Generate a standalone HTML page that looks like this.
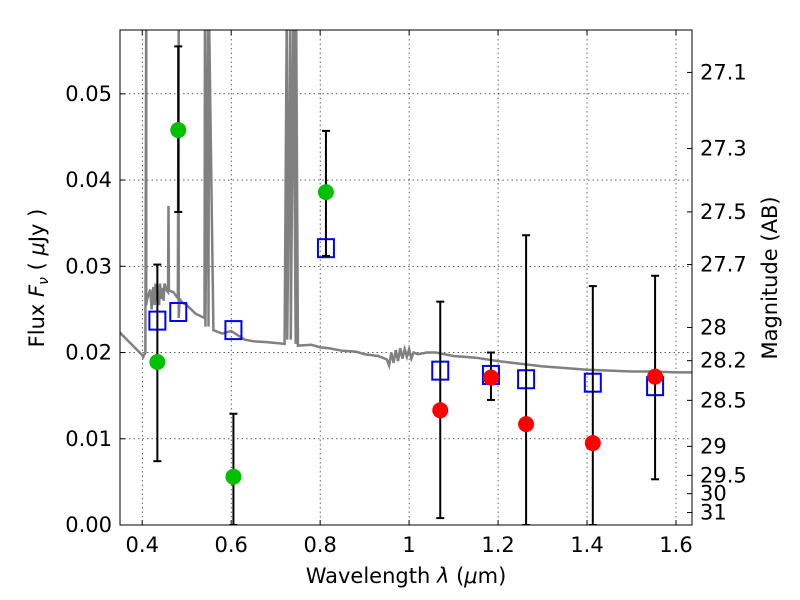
<!DOCTYPE html>
<html><head><meta charset="utf-8"><style>
body{margin:0;background:#fff}
svg{display:block;font-family:"DejaVu Sans","Liberation Sans",sans-serif}
</style></head><body>
<svg id="chart" width="800" height="600"></svg>
<script>
const greenX=[0.434,0.481,0.605,0.813];
const greenY=[0.0189,0.0458,0.0056,0.0386];
const greenLo=[0.0074,0.0363,0.0,0.0312];
const greenHi=[0.0302,0.0555,0.0129,0.0457];
const redX=[1.070,1.184,1.263,1.413,1.553];
const redY=[0.0133,0.0171,0.0117,0.0095,0.0172];
const redLo=[0.0008,0.0145,0.0,0.0,0.0053];
const redHi=[0.0259,0.0200,0.0336,0.0277,0.0289];
const modelX=[0.434,0.481,0.605,0.813,1.070,1.184,1.263,1.413,1.553];
const modelY=[0.0237,0.0247,0.0226,0.0321,0.0179,0.0174,0.0169,0.0165,0.0161];
const specX=[0.35,0.40,0.402,0.407,0.409,0.409,0.411,0.418,0.421,0.425,0.428,0.43,0.433,0.435,0.438,0.44,0.443,0.445,0.448,0.45,0.455,0.458,0.459,0.46,0.47,0.48,0.482,0.482,0.484,0.49,0.5,0.52,0.54,0.541,0.542,0.548,0.549,0.55,0.56,0.58,0.6,0.63,0.65,0.68,0.72,0.725,0.726,0.733,0.734,0.74,0.745,0.746,0.75,0.78,0.8,0.82,0.85,0.88,0.9,0.93,0.95,0.955,0.96,0.965,0.97,0.975,0.98,0.985,0.99,0.995,1.0,1.005,1.01,1.02,1.04,1.06,1.08,1.1,1.15,1.2,1.25,1.3,1.35,1.4,1.45,1.5,1.55,1.6,1.636];
const specY=[0.0223,0.0197,0.0195,0.0200,0.06,0.0255,0.0262,0.0273,0.0250,0.0276,0.0255,0.0280,0.0260,0.0272,0.0255,0.0280,0.0262,0.0275,0.0260,0.0280,0.0272,0.0270,0.037,0.0272,0.0270,0.0263,0.06,0.0240,0.0262,0.0258,0.0255,0.0245,0.0240,0.06,0.023,0.06,0.023,0.06,0.0226,0.0222,0.0225,0.0215,0.0213,0.0212,0.0210,0.06,0.0215,0.06,0.0215,0.06,0.0210,0.06,0.0208,0.0209,0.0206,0.0205,0.0202,0.0201,0.0198,0.0196,0.0192,0.0185,0.0200,0.0188,0.0203,0.0190,0.0205,0.0193,0.0204,0.0195,0.0204,0.0193,0.0200,0.0198,0.0200,0.0200,0.0198,0.0196,0.0194,0.0190,0.0187,0.0184,0.0182,0.0180,0.0179,0.0178,0.0178,0.0177,0.0177];
const xTicks=[0.4,0.6,0.8,1.0,1.2,1.4,1.6];
const xTickLabels=["0.4","0.6","0.8","1","1.2","1.4","1.6"];
const yTicks=[0,0.01,0.02,0.03,0.04,0.05];
const yTickLabels=["0.00","0.01","0.02","0.03","0.04","0.05"];
const magTicks=[27.1,27.3,27.5,27.7,28,28.2,28.5,29,29.5,30,31];
const magTickLabels=["27.1","27.3","27.5","27.7","28","28.2","28.5","29","29.5","30","31"];

const L=120,R=692,T=30,B=525;
const X0=0.35,X1=1.636,Y0=0,Y1=0.0574;
const sx=v=>L+(v-X0)/(X1-X0)*(R-L);
const sy=v=>B-(v-Y0)/(Y1-Y0)*(B-T);
const svg=document.getElementById('chart');
const NS='http://www.w3.org/2000/svg';
function mk(tag,attrs,parent){const e=document.createElementNS(NS,tag);for(const k in attrs)e.setAttribute(k,attrs[k]);(parent||svg).appendChild(e);return e;}
function txt(x,y,s,anchor,size,parent){const t=mk('text',{x:x,y:y,'text-anchor':anchor,'font-size':size||20},parent);t.textContent=s;return t;}

const defs=mk('defs',{});const cp=mk('clipPath',{id:'clip'},defs);mk('rect',{x:L,y:T,width:R-L,height:B-T},cp);

const grid=mk('g',{});


xTicks.forEach(v=>mk('line',{x1:sx(v),x2:sx(v),y1:T,y2:B,stroke:'#000','stroke-width':0.6,'stroke-dasharray':'1.5,3'},grid));
yTicks.forEach(v=>mk('line',{x1:L,x2:R,y1:sy(v),y2:sy(v),stroke:'#000','stroke-width':0.6,'stroke-dasharray':'1.5,3'},grid));

const sp=mk('polyline',{points:specX.map((x,i)=>sx(x)+','+sy(specY[i])).join(' '),fill:'none',stroke:'#808080','stroke-width':2.5,'clip-path':'url(#clip)'});



modelX.forEach((x,i)=>{const r=mk('rect',{x:sx(x)-8,y:sy(modelY[i])-9,width:16,height:18,fill:'none',stroke:'#0000ff','stroke-width':2});

});

function errs(xs,lo,hi,g){xs.forEach((x,i)=>{const px=sx(x);
mk('line',{x1:px,x2:px,y1:sy(lo[i]),y2:sy(hi[i]),stroke:'#000','stroke-width':2},g);
mk('line',{x1:px-4,x2:px+4,y1:sy(lo[i]),y2:sy(lo[i]),stroke:'#000','stroke-width':2},g);
mk('line',{x1:px-4,x2:px+4,y1:sy(hi[i]),y2:sy(hi[i]),stroke:'#000','stroke-width':2},g);});}
const eg=mk('g',{'clip-path':'url(#clip)'});


errs(greenX,greenLo,greenHi,eg);errs(redX,redLo,redHi,eg);
greenX.forEach((x,i)=>{const c=mk('circle',{cx:sx(x),cy:sy(greenY[i]),r:8,fill:'#00c000'});

});
redX.forEach((x,i)=>{const c=mk('circle',{cx:sx(x),cy:sy(redY[i]),r:8,fill:'#ff0000'});

});

const fr=mk('rect',{x:L,y:T,width:R-L,height:B-T,fill:'none',stroke:'#000','stroke-width':1});



const xa=mk('g',{});


xTicks.forEach((v,i)=>{const px=sx(v);mk('line',{x1:px,x2:px,y1:B,y2:B-5,stroke:'#000'},xa);mk('line',{x1:px,x2:px,y1:T,y2:T+5,stroke:'#000'},xa);txt(px,B+27,xTickLabels[i],'middle',21,xa);});
const ya=mk('g',{});


yTicks.forEach((v,i)=>{const py=sy(v);mk('line',{x1:L,x2:L+5,y1:py,y2:py,stroke:'#000'},ya);txt(L-8,py+7,yTickLabels[i],'end',21,ya);});
const ma=mk('g',{});


magTicks.forEach((m,i)=>{const py=sy(Math.pow(10,(23.9-m)/2.5));mk('line',{x1:R,x2:R-5,y1:py,y2:py,stroke:'#000'},ma);txt(R+8,py+7,magTickLabels[i],'start',21,ma);});

const xt=txt(406,583,'','middle',21);xt.innerHTML='Wavelength  <tspan font-style="italic">λ</tspan> (<tspan font-style="italic">μ</tspan>m)';


const yt=txt(0,0,'','middle',21);yt.setAttribute('transform','translate(44,278) rotate(-90)');yt.innerHTML='Flux  <tspan font-style="italic">F</tspan><tspan font-style="italic" font-size="14" dy="4">ν</tspan><tspan dy="-4">  (  </tspan><tspan font-style="italic">μ</tspan>Jy )';


const rt=txt(0,0,'Magnitude (AB)','middle',21);rt.setAttribute('transform','translate(777,278) rotate(-90)');


</script>
</body></html>
